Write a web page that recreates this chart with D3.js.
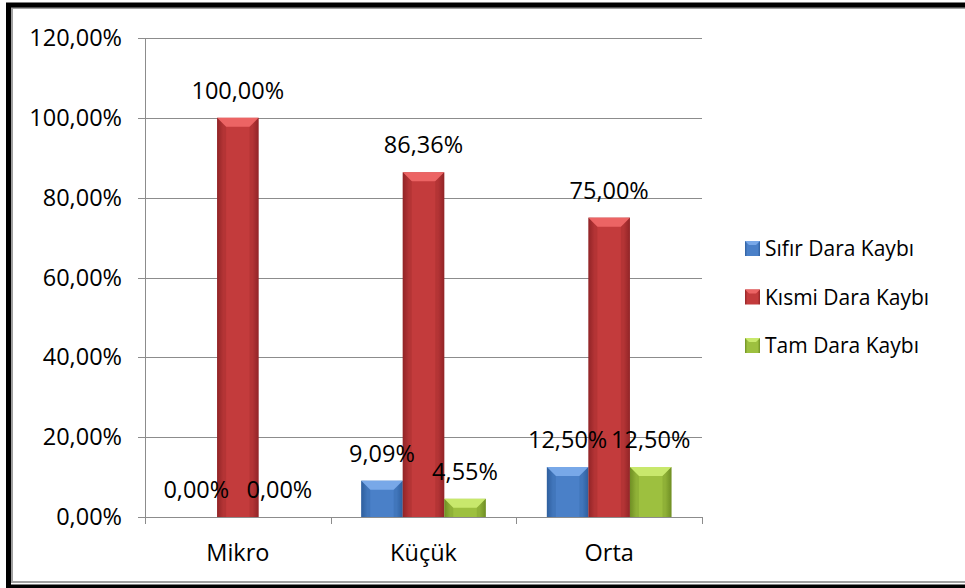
<!DOCTYPE html>
<html>
<head>
<meta charset="utf-8">
<script src="https://cdn.jsdelivr.net/npm/d3@7"></script>
<style>
  body { margin: 0; background: #fff; }
  svg { display: block; font-family: "Open Sans", sans-serif; }
</style>
</head>
<body>
<svg width="965" height="588"></svg>
<script>
// Chart data
const categories = ["Mikro", "Küçük", "Orta"];
const seriesNames = ["Sıfır Dara Kaybı", "Kısmi Dara Kaybı", "Tam Dara Kaybı"];
const sifir = [0, 9.09, 12.5];
const kismi = [100, 86.36, 75];
const tam = [0, 4.55, 12.5];
const yTicks = [0, 20, 40, 60, 80, 100, 120];

const colors = ["#4a80c8", "#c33b3c", "#9dc03f"];
const light = ["#78a8e8", "#ec6464", "#c8e86c"];
const dark = ["#2f5f9e", "#922527", "#6f8f24"];

const width = 965;
const height = 588;
const margin = { top: 38, right: 263, bottom: 71, left: 145 };

const svg = d3.select("svg");

// Frame
svg.append("rect")
    .attr("x", 12).attr("y", 8)
    .attr("width", 1000).attr("height", 574)
    .attr("fill", "none")
    .attr("stroke", "#a0a0a0")
    .attr("stroke-width", 2);
svg.append("rect")
    .attr("x", 8.5).attr("y", 5)
    .attr("width", 1000).attr("height", 582)
    .attr("fill", "none")
    .attr("stroke", "#000")
    .attr("stroke-width", 5);

// Scales
const x0 = d3.scaleBand()
    .domain(categories)
    .range([margin.left, width - margin.right]);

const x1 = d3.scaleBand()
    .domain(seriesNames)
    .range([0, x0.bandwidth()])
    .paddingOuter(0.735);

const y = d3.scaleLinear()
    .domain([0, 120])
    .range([height - margin.bottom, margin.top]);

// Gradients
const defs = svg.append("defs");
colors.forEach((c, i) => {
    const g = defs.append("linearGradient")
        .attr("id", "grad" + i)
        .attr("x1", "0%").attr("x2", "100%")
        .attr("y1", "0%").attr("y2", "0%");
    g.append("stop").attr("offset", "0%").attr("stop-color", dark[i]);
    g.append("stop").attr("offset", "15%").attr("stop-color", c);
    g.append("stop").attr("offset", "85%").attr("stop-color", c);
    g.append("stop").attr("offset", "100%").attr("stop-color", dark[i]);
});

// Gridlines
svg.append("g")
    .selectAll("line")
    .data(yTicks)
    .enter()
    .append("line")
    .attr("x1", margin.left - 7)
    .attr("x2", width - margin.right)
    .attr("y1", d => Math.round(y(d)) + 0.5)
    .attr("y2", d => Math.round(y(d)) + 0.5)
    .attr("stroke", "#8c8c8c")
    .attr("stroke-width", 1);

// Y axis line
svg.append("line")
    .attr("x1", margin.left + 0.5).attr("x2", margin.left + 0.5)
    .attr("y1", y(120)).attr("y2", y(0) + 7)
    .attr("stroke", "#8c8c8c");

// X axis ticks at category boundaries
const bounds = categories.map(c => x0(c)).concat([x0(categories[categories.length - 1]) + x0.bandwidth()]);
svg.append("g")
    .selectAll("line")
    .data(bounds.slice(1))
    .enter()
    .append("line")
    .attr("x1", d => Math.round(d) + 0.5)
    .attr("x2", d => Math.round(d) + 0.5)
    .attr("y1", y(0))
    .attr("y2", y(0) + 7)
    .attr("stroke", "#8c8c8c");

// Y tick labels
svg.append("g")
    .selectAll("text")
    .data(yTicks)
    .enter()
    .append("text")
    .attr("x", margin.left - 23)
    .attr("y", d => y(d) + 8)
    .attr("text-anchor", "end")
    .attr("font-size", 23.5)
    .attr("fill", "#000")
    .text(d => d3.format(".2f")(d).replace(".", ",") + "%");

// Category labels
svg.append("g")
    .selectAll("text")
    .data(categories)
    .enter()
    .append("text")
    .attr("x", d => x0(d) + x0.bandwidth() / 2)
    .attr("y", y(0) + 44)
    .attr("text-anchor", "middle")
    .attr("font-size", 23.5)
    .attr("fill", "#000")
    .text(d => d);

// Build bar records
const values = [sifir, kismi, tam];
const bars = [];
categories.forEach((c, ci) => {
    seriesNames.forEach((s, si) => {
        bars.push({ cat: c, series: s, si: si, value: values[si][ci] });
    });
});

const barG = svg.append("g");
const bw = x1.bandwidth();
const bevel = 9;

bars.forEach(d => {
    const bx = x0(d.cat) + x1(d.series);
    const by = y(d.value);
    const bh = y(0) - by;
    if (bh <= 0) return;
    barG.append("rect")
        .attr("x", bx).attr("y", by)
        .attr("width", bw).attr("height", bh)
        .attr("fill", `url(#grad${d.si})`);
    const b = Math.min(bevel, bh / 2);
    // top bevel
    barG.append("polygon")
        .attr("points", [[bx, by], [bx + bw, by], [bx + bw - b, by + b], [bx + b, by + b]].join(" "))
        .attr("fill", light[d.si]);
    // side bevels
    barG.append("polygon")
        .attr("points", [[bx, by], [bx + b, by + b], [bx + b, y(0)], [bx, y(0)]].join(" "))
        .attr("fill", dark[d.si]).attr("opacity", 0.3);
    barG.append("polygon")
        .attr("points", [[bx + bw, by], [bx + bw - b, by + b], [bx + bw - b, y(0)], [bx + bw, y(0)]].join(" "))
        .attr("fill", dark[d.si]).attr("opacity", 0.3);
});

// Value labels
svg.append("g")
    .selectAll("text")
    .data(bars)
    .enter()
    .append("text")
    .attr("x", d => x0(d.cat) + x1(d.series) + bw / 2)
    .attr("y", d => y(d.value) - 19)
    .attr("text-anchor", "middle")
    .attr("font-size", 23.5)
    .attr("fill", "#000")
    .text(d => d3.format(".2f")(d.value).replace(".", ",") + "%");

// Legend
const legend = svg.append("g")
    .attr("transform", "translate(745, 248)");
seriesNames.forEach((s, i) => {
    const g = legend.append("g").attr("transform", `translate(0, ${i * 48.5})`);
    g.append("rect")
        .attr("x", 0).attr("y", -7)
        .attr("width", 15).attr("height", 15)
        .attr("fill", `url(#grad${i})`);
    g.append("polygon")
        .attr("points", "0,-7 15,-7 11,-3 4,-3")
        .attr("fill", light[i]);
    g.append("text")
        .attr("x", 20)
        .attr("y", 8)
        .attr("font-size", 21)
        .attr("fill", "#000")
        .text(s);
});
</script>
</body>
</html>
